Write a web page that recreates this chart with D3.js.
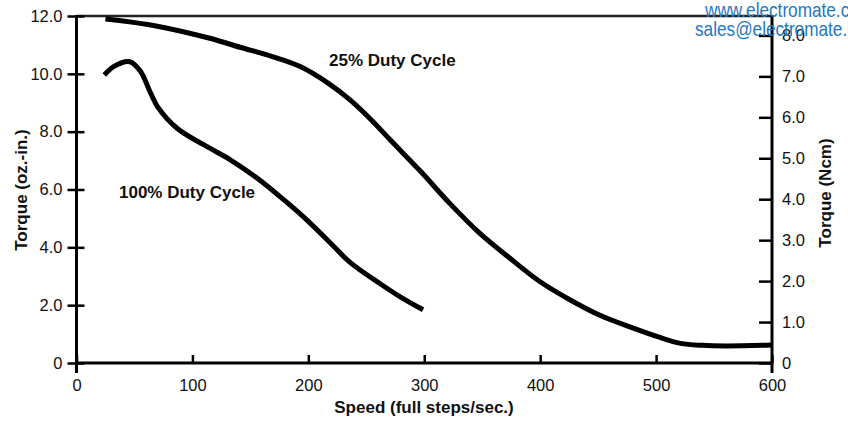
<!DOCTYPE html>
<html><head><meta charset="utf-8">
<script src="https://cdn.jsdelivr.net/npm/d3@7"></script>
<style>html,body{margin:0;padding:0;background:#fff;overflow:hidden}</style>
</head><body>
<svg id="c" width="848" height="422"></svg>
<script>
// Data (speed in full steps/sec, torque in oz.-in.)
const speed25 = [25, 64, 115, 141, 167, 193, 217, 236, 255, 271, 297, 322, 348, 374, 400, 426, 452, 478, 502, 521, 540, 560, 600];
const torque25 = [11.9, 11.69, 11.23, 10.92, 10.62, 10.25, 9.68, 9.1, 8.38, 7.7, 6.62, 5.52, 4.48, 3.62, 2.81, 2.18, 1.64, 1.24, 0.9, 0.68, 0.61, 0.59, 0.62];
const speed100 = [24, 32, 46, 55, 64, 70, 87, 110, 133, 156, 179, 200, 219, 236, 262, 280, 299];
const torque100 = [9.96, 10.25, 10.42, 10.1, 9.33, 8.86, 8.11, 7.54, 7.02, 6.39, 5.64, 4.9, 4.15, 3.48, 2.74, 2.27, 1.84];
const xTicks = [0, 100, 200, 300, 400, 500, 600];
const yLeftTicks = [0, 2, 4, 6, 8, 10, 12];
const yRightTicks = [0, 1, 2, 3, 4, 5, 6, 7, 8];
const labels = ["25% Duty Cycle", "100% Duty Cycle"];
const ozinToNcm = 0.7062;

const svg = d3.select("#c");
const L = 76.5, R = 772, T = 16, B = 363;
const x = d3.scaleLinear().domain([0, 600]).range([L, R]);
const yL = d3.scaleLinear().domain([0, 12]).range([B, T]);
const yR = d3.scaleLinear().domain([0, 12 * ozinToNcm]).range([B, T]);
const font = "'Liberation Sans', Arial, Helvetica, sans-serif";

// top border
svg.append("line").attr("x1", L).attr("x2", R).attr("y1", T).attr("y2", T)
  .attr("stroke", "#222").attr("stroke-width", 2.5);

// left axis
const gL = svg.append("g").attr("transform", `translate(${L},0)`)
  .call(d3.axisLeft(yL).tickValues(yLeftTicks).tickSize(9).tickPadding(5)
    .tickFormat(d => d === 0 ? "0" : d3.format(".1f")(d)));
gL.select(".domain").remove();
gL.selectAll(".tick line").attr("x1", 8).attr("stroke", "#000").attr("stroke-width", 2.5);
gL.selectAll(".tick text").attr("font-family", font).attr("font-size", 16.5).attr("fill", "#111");
svg.append("line").attr("x1", L).attr("x2", L).attr("y1", T - 1).attr("y2", B + 10)
  .attr("stroke", "#000").attr("stroke-width", 3);

// right axis
const gR = svg.append("g").attr("transform", `translate(${R},0)`)
  .call(d3.axisRight(yR).tickValues(yRightTicks).tickSize(0).tickPadding(10)
    .tickFormat(d => d === 0 ? "0" : d3.format(".1f")(d)));
gR.select(".domain").remove();
gR.selectAll(".tick line").attr("x2", -13).attr("stroke", "#000").attr("stroke-width", 2.5);
gR.selectAll(".tick text").attr("font-family", font).attr("font-size", 16.5).attr("fill", "#111");
svg.append("line").attr("x1", R).attr("x2", R).attr("y1", T - 1).attr("y2", B + 10)
  .attr("stroke", "#000").attr("stroke-width", 3);

// bottom axis
const gB = svg.append("g").attr("transform", `translate(0,${B})`)
  .call(d3.axisBottom(x).tickValues(xTicks).tickSize(0).tickPadding(16).tickFormat(d3.format("d")));
gB.select(".domain").remove();
gB.selectAll(".tick line").attr("y2", -8).attr("stroke", "#000").attr("stroke-width", 2.5);
gB.selectAll(".tick text").attr("font-family", font).attr("font-size", 16.5).attr("fill", "#111");
svg.append("line").attr("x1", L).attr("x2", R).attr("y1", B).attr("y2", B)
  .attr("stroke", "#000").attr("stroke-width", 3);

// curves
const line = d3.line().x(d => x(d[0])).y(d => yL(d[1])).curve(d3.curveCatmullRom.alpha(0.5));
svg.append("path").datum(speed25.map((s, i) => [s, torque25[i]]))
  .attr("d", line).attr("fill", "none").attr("stroke", "#000").attr("stroke-width", 5);
svg.append("path").datum(speed100.map((s, i) => [s, torque100[i]]))
  .attr("d", line).attr("fill", "none").attr("stroke", "#000").attr("stroke-width", 5);

// curve labels
svg.append("text").attr("x", 329).attr("y", 66).text(labels[0])
  .attr("font-family", font).attr("font-weight", "bold").attr("font-size", 17).attr("fill", "#111");
svg.append("text").attr("x", 119).attr("y", 198).text(labels[1])
  .attr("font-family", font).attr("font-weight", "bold").attr("font-size", 17).attr("fill", "#111");

// axis titles
svg.append("text").attr("x", 424).attr("y", 413).attr("text-anchor", "middle")
  .text("Speed (full steps/sec.)")
  .attr("font-family", font).attr("font-weight", "bold").attr("font-size", 17).attr("fill", "#111");
svg.append("text").attr("transform", "translate(27,190) rotate(-90)").attr("text-anchor", "middle")
  .text("Torque (oz.-in.)")
  .attr("font-family", font).attr("font-weight", "bold").attr("font-size", 17).attr("fill", "#111");
svg.append("text").attr("transform", "translate(831,193) rotate(-90)").attr("text-anchor", "middle")
  .text("Torque (Ncm)")
  .attr("font-family", font).attr("font-weight", "bold").attr("font-size", 17).attr("fill", "#111");

// watermark
const wm = svg.append("g").attr("fill", "#2478c0").attr("font-family", font).attr("font-size", 20);
wm.append("text").attr("transform", "translate(705,17) scale(0.86,1)").text("www.electromate.com");
wm.append("text").attr("transform", "translate(695,36) scale(0.86,1)").text("sales@electromate.com");
</script>
</body></html>
